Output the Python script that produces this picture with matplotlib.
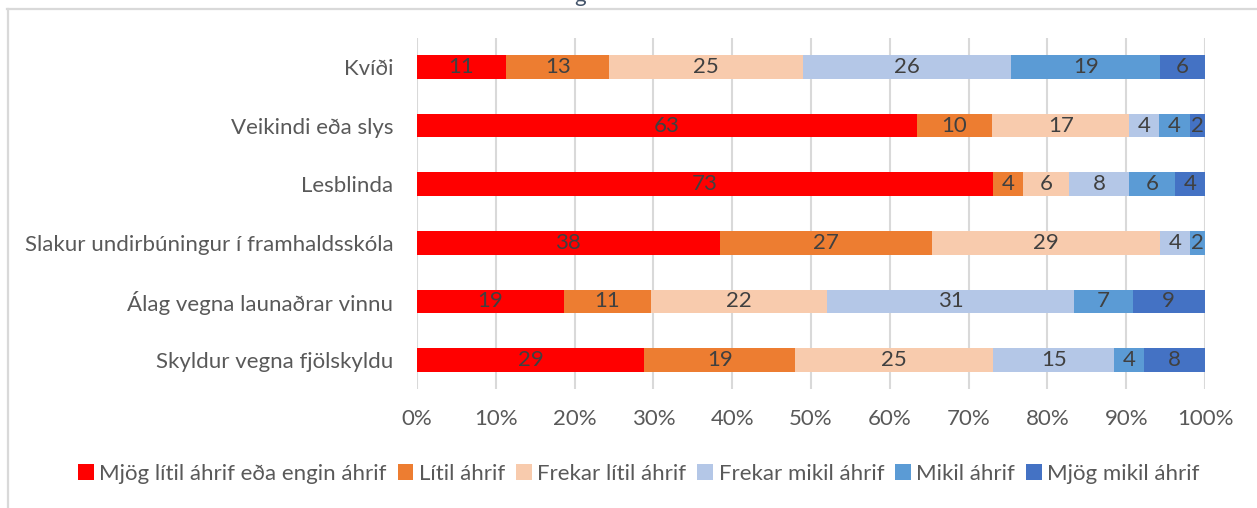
import numpy as np
import matplotlib.pyplot as plt
from matplotlib.lines import Line2D

plt.rcParams['font.family'] = ['Lato', 'DejaVu Sans']

# categories, top to bottom
categories = ['Kvíði', 'Veikindi eða slys', 'Lesblinda',
              'Slakur undirbúningur í framhaldsskóla',
              'Álag vegna launaðrar vinnu', 'Skyldur vegna fjölskyldu']

series_names = ['Mjög lítil áhrif eða engin áhrif', 'Lítil áhrif',
                'Frekar lítil áhrif', 'Frekar mikil áhrif',
                'Mikil áhrif', 'Mjög mikil áhrif']

# percentages per series (one value per category, same order as categories)
mjog_litil = [11.3, 63.4, 73.1, 38.4, 18.6, 28.8]
litil = [13.1, 9.6, 3.8, 26.9, 11.1, 19.2]
frekar_litil = [24.6, 17.4, 5.8, 29.0, 22.3, 25.1]
frekar_mikil = [26.4, 3.8, 7.7, 3.8, 31.4, 15.4]
mikil = [18.9, 3.9, 5.8, 1.9, 7.4, 3.8]
mjog_mikil = [5.7, 1.9, 3.8, 0.0, 9.2, 7.7]

series = [mjog_litil, litil, frekar_litil, frekar_mikil, mikil, mjog_mikil]
colors = ['#FF0000', '#ED7D31', '#F8CBAD', '#B4C7E7', '#5B9BD5', '#4472C4']

xticks = list(range(0, 101, 10))

W, H = 1257, 508
FS = 16
fig = plt.figure(figsize=(W / 100, H / 100), dpi=100)

# chart frame (light grey border, cut off at right/bottom)
fig.add_artist(Line2D([7 / W, 1], [1 - 9 / H, 1 - 9 / H], transform=fig.transFigure,
                      color='#D9D9D9', lw=1.6))
fig.add_artist(Line2D([7.5 / W, 7.5 / W], [0, 1 - 9 / H], transform=fig.transFigure,
                      color='#D9D9D9', lw=1.6))

# clipped title remnant at the very top
fig.text(580 / W, 1 - 2 / H, 'g', color='#44546A', fontsize=16, ha='center', va='baseline')

ax = fig.add_axes([417 / W, 1 - 389.3 / H, 788 / W, (389.3 - 37.7) / H])

y = np.arange(len(categories))
left = np.zeros(len(categories))
handles = []
for name, vals, col in zip(series_names, series, colors):
    vals = np.array(vals)
    bars = ax.barh(y, vals, left=left, height=0.4, color=col, label=name, zorder=3)
    labels = [f'{int(round(v))}' if v > 0 else '' for v in vals]
    ax.bar_label(bars, labels=labels, label_type='center', color='#404040', fontsize=FS)
    handles.append(bars)
    left += vals

ax.set_xlim(0, 100)
ax.set_ylim(len(categories) - 0.5, -0.5)
ax.set_yticks(y)
ax.set_yticklabels(categories)
ax.set_xticks(xticks)
ax.set_xticklabels([f'{t}%' for t in xticks])
ax.tick_params(axis='both', length=0, colors='#595959', labelsize=FS)
ax.tick_params(axis='x', pad=14)
ax.tick_params(axis='y', pad=17)
ax.grid(axis='x', color='#D9D9D9', lw=1.5, zorder=0)
for s in ax.spines.values():
    s.set_visible(False)

leg = fig.legend(handles=handles, labels=series_names, loc='center',
                 bbox_to_anchor=(639 / W, 1 - 474 / H), ncol=6, frameon=False,
                 fontsize=FS, handlelength=0.7, handleheight=0.7,
                 handletextpad=0.25, columnspacing=0.5, borderpad=0)
for t in leg.get_texts():
    t.set_color('#595959')

fig.savefig('out.png', dpi=100)
